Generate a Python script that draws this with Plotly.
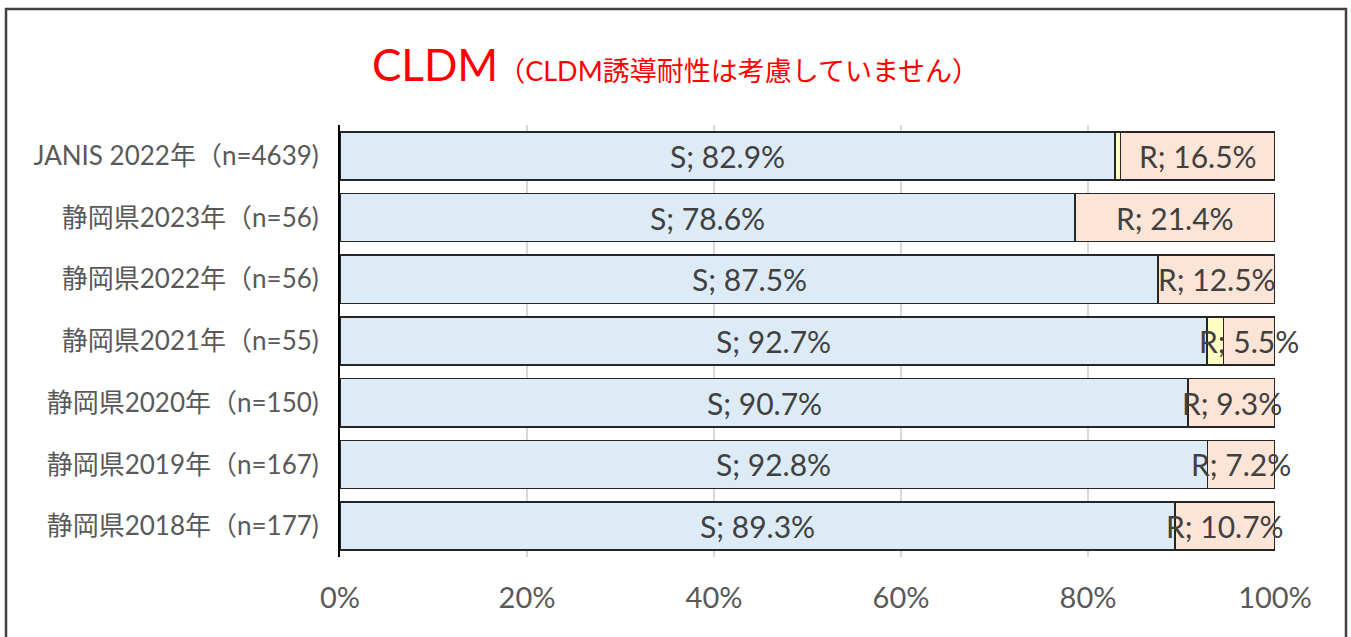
import plotly.graph_objects as go

categories = ["JANIS 2022年（n=4639)", "静岡県2023年（n=56)", "静岡県2022年（n=56)",
              "静岡県2021年（n=55)", "静岡県2020年（n=150)", "静岡県2019年（n=167)",
              "静岡県2018年（n=177)"]
s_vals = [82.9, 78.6, 87.5, 92.7, 90.7, 92.8, 89.3]
i_vals = [0.6, 0.0, 0.0, 1.8, 0.0, 0.0, 0.0]
r_vals = [16.5, 21.4, 12.5, 5.5, 9.3, 7.2, 10.7]
tick_vals = [0, 20, 40, 60, 80, 100]
tick_text = ["0%", "20%", "40%", "60%", "80%", "100%"]

FONT = "Lato, 'Noto Sans CJK JP', sans-serif"
line = dict(color="#262626", width=1.5)

fig = go.Figure()
fig.add_trace(go.Bar(y=categories, x=s_vals, orientation="h", name="S",
                     marker=dict(color="#DDEBF7", line=line), hoverinfo="x"))
fig.add_trace(go.Bar(y=categories, x=i_vals, orientation="h", name="I",
                     marker=dict(color="#FFFFC4", line=line), hoverinfo="x"))
fig.add_trace(go.Bar(y=categories, x=r_vals, orientation="h", name="R",
                     marker=dict(color="#FCE4D6", line=line), hoverinfo="x"))

annotations = []
for c, s, i, r in zip(categories, s_vals, i_vals, r_vals):
    annotations.append(dict(x=s / 2, y=c, xref="x", yref="y", text=f"S; {s:.1f}%",
                            showarrow=False, font=dict(family=FONT, size=30, color="#404040")))
    annotations.append(dict(x=s + i + r / 2, y=c, xref="x", yref="y", text=f"R; {r:.1f}%",
                            showarrow=False, font=dict(family=FONT, size=30, color="#404040")))

fig.update_layout(
    barmode="stack",
    bargap=0.22,
    width=1351, height=637,
    margin=dict(l=340, r=76, t=125, b=80),
    paper_bgcolor="white", plot_bgcolor="white",
    showlegend=False,
    font=dict(family=FONT),
    title=dict(
        text="CLDM<span style='font-size:27px'>（CLDM誘導耐性は考慮していません）</span>",
        font=dict(family=FONT, size=44, color="#FF0000"),
        x=0.5, xanchor="center", xref="container",
        y=1 - 66 / 637, yanchor="middle", yref="container",
    ),
    xaxis=dict(range=[0, 100], tickvals=tick_vals, ticktext=tick_text,
               showgrid=True, gridcolor="#D9D9D9", gridwidth=1.5,
               zeroline=False, showline=False, ticks="",
               tickfont=dict(family=FONT, size=29, color="#595959"),
               ticklabelstandoff=21, fixedrange=True),
    yaxis=dict(categoryorder="array", categoryarray=categories, autorange="reversed",
               showline=True, linecolor="#000000", linewidth=2, ticks="",
               tickfont=dict(family=FONT, size=26, color="#595959"),
               ticklabelstandoff=14, fixedrange=True),
    annotations=annotations,
    shapes=[dict(type="rect", xref="paper", yref="paper",
                 x0=(6 - 340) / 935, x1=(1346 - 340) / 935,
                 y0=(557 - 645) / 432, y1=(557 - 9) / 432,
                 line=dict(color="#404040", width=2.5), layer="below")],
)

fig.write_html("out.html", config={"displayModeBar": False},
               post_script="document.body.style.margin='0';")
